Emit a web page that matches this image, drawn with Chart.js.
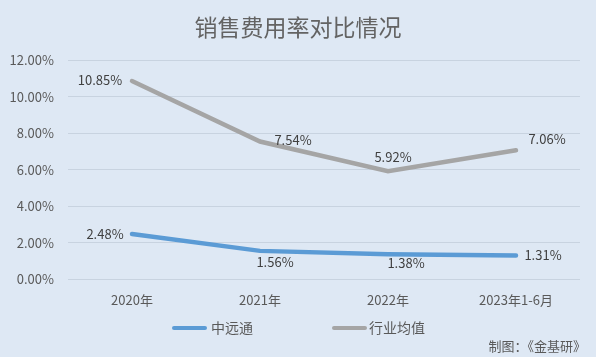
<!DOCTYPE html>
<html><head><meta charset="utf-8">
<script src="https://cdn.jsdelivr.net/npm/chart.js@4/dist/chart.umd.min.js"></script>
<style>html,body{margin:0;padding:0;background:#DEE8F4;}#wrap{width:596px;height:357px;}</style>
</head><body><div id="wrap"><canvas id="c" width="596" height="357"></canvas></div>
<script>
const categories = ['2020年', '2021年', '2022年', '2023年1-6月'];
const seriesNames = ['中远通', '行业均值'];
const zhongyuantong = [2.48, 1.56, 1.38, 1.31];
const industryAvg = [10.85, 7.54, 5.92, 7.06];
const yTicks = [0, 2, 4, 6, 8, 10, 12];
const titleText = '销售费用率对比情况';
const sourceText = '制图：《金基研》';

const FONT = '"Noto Sans CJK SC", "Liberation Sans", sans-serif';
const TXT = '#595959';
// label offsets (style only)
const labelOffsets = [
  [[-27, 0], [15, 11], [18, 9], [27, 0]],
  [[-32, -1], [33, -1], [5, -14], [31, -11]]
];
// legend item positions (style only)
const legendPos = [[172, 211], [332, 369]];
const legendY = 328;

const labelPlugin = {
  id: 'labels',
  afterDatasetsDraw(chart) {
    const ctx = chart.ctx;
    ctx.save();
    ctx.font = '13px ' + FONT;
    ctx.fillStyle = '#404040';
    ctx.textAlign = 'center';
    ctx.textBaseline = 'middle';
    chart.data.datasets.forEach((ds, di) => {
      const meta = chart.getDatasetMeta(di);
      meta.data.forEach((pt, i) => {
        const o = labelOffsets[di][i];
        ctx.fillText(ds.data[i].toFixed(2) + '%', pt.x + o[0], pt.y + o[1]);
      });
    });
    ctx.restore();
  },
  afterDraw(chart) {
    const ctx = chart.ctx;
    ctx.save();
    // title
    ctx.font = '23px ' + FONT;
    ctx.fillStyle = '#636363';
    ctx.textAlign = 'center';
    ctx.textBaseline = 'middle';
    ctx.fillText(titleText, 298, 27);
    // legend
    ctx.font = '14px ' + FONT;
    ctx.textAlign = 'left';
    chart.data.datasets.forEach((ds, di) => {
      const p = legendPos[di];
      ctx.strokeStyle = ds.borderColor;
      ctx.lineWidth = 4;
      ctx.lineCap = 'round';
      ctx.beginPath();
      ctx.moveTo(p[0] + 2, legendY);
      ctx.lineTo(p[0] + 33, legendY);
      ctx.stroke();
      ctx.fillStyle = TXT;
      ctx.fillText(ds.label, p[1], legendY);
    });
    // source
    ctx.font = '13px ' + FONT;
    ctx.fillStyle = '#595959';
    ctx.textAlign = 'right';
    ctx.fillText(sourceText, 586, 346);
    ctx.restore();
  }
};
const bgPlugin = {
  id: 'bg',
  beforeDraw(chart) {
    const ctx = chart.ctx;
    ctx.save();
    ctx.fillStyle = '#DEE8F4';
    ctx.fillRect(0, 0, chart.width, chart.height);
    ctx.restore();
  }
};

new Chart(document.getElementById('c'), {
  type: 'line',
  data: {
    labels: categories,
    datasets: [
      { label: seriesNames[0], data: zhongyuantong, borderColor: '#5B9BD5', backgroundColor: '#5B9BD5', borderWidth: 4.5, pointRadius: 0, tension: 0, borderCapStyle: 'round' },
      { label: seriesNames[1], data: industryAvg, borderColor: '#A5A5A5', backgroundColor: '#A5A5A5', borderWidth: 4.5, pointRadius: 0, tension: 0, borderCapStyle: 'round' }
    ]
  },
  plugins: [bgPlugin, labelPlugin],
  options: {
    responsive: false,
    animation: false,
    layout: { padding: { top: 60, right: 16, left: 0, bottom: 36 } },
    plugins: {
      title: { display: false },
      legend: { display: false },
      tooltip: { enabled: false }
    },
    scales: {
      x: {
        offset: true,
        grid: { display: false, drawTicks: false },
        border: { display: false },
        ticks: { color: TXT, font: { family: FONT, size: 13 }, padding: 13, maxRotation: 0 }
      },
      y: {
        min: 0, max: 12,
        afterFit(s) { s.width = 68; },
        afterBuildTicks(s) { s.ticks = yTicks.map(v => ({ value: v })); },
        grid: { color: '#C8D3E0', drawTicks: false, lineWidth: 1 },
        border: { display: false },
        ticks: { color: TXT, font: { family: FONT, size: 13 }, padding: 14, callback: v => v.toFixed(2) + '%' }
      }
    }
  }
});
</script></body></html>
